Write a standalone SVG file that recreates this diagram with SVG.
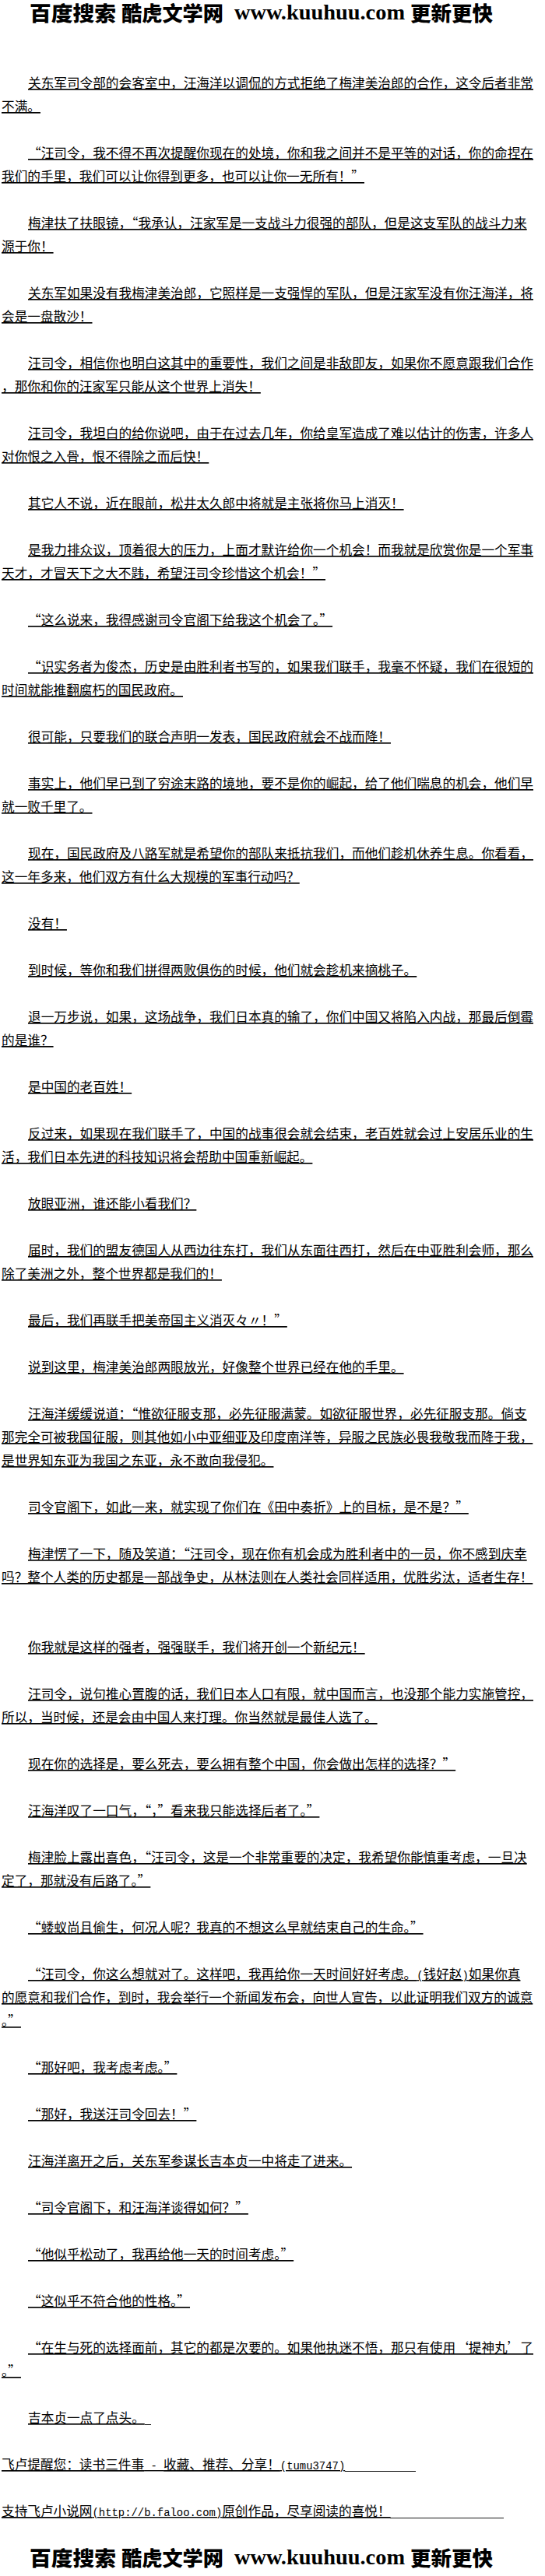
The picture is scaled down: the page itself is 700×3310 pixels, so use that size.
<svg xmlns="http://www.w3.org/2000/svg" width="700" height="3310" viewBox="0 0 700 3310">
<style>
.t{font-family:"Noto Sans CJK SC","Noto Sans",sans-serif;font-size:16.65px;fill:#000;text-decoration:underline;}
.m{font-family:"Liberation Mono",monospace;font-size:13.9px;}
.hc{font-family:"Noto Sans CJK SC",sans-serif;font-weight:900;font-size:26px;fill:#000;}
.hu{font-family:"Liberation Serif",serif;font-weight:bold;font-size:28px;fill:#000;}
.ul{stroke:#000;stroke-width:0.9;fill:none;}
</style>
<rect width="700" height="3310" fill="#fff"/>
<g id="header-top">
<text class="hc" x="38" y="27" textLength="111" lengthAdjust="spacingAndGlyphs">百度搜索</text>
<text class="hc" x="156" y="27" textLength="131" lengthAdjust="spacingAndGlyphs">酷虎文学网</text>
<text class="hu" x="301" y="25" textLength="219" lengthAdjust="spacingAndGlyphs">www.kuuhuu.com</text>
<text class="hc" x="527" y="27" textLength="106" lengthAdjust="spacingAndGlyphs">更新更快</text>
</g>
<g id="body">
<g id="p1"><text class="t" x="36" y="113">关东军司令部的会客室中，汪海洋以调侃的方式拒绝了梅津美治郎的合作，这令后者非常</text><text class="t" x="2" y="143">不满。</text></g>
<g id="p2"><text class="t" x="36" y="203">“汪司令，我不得不再次提醒你现在的处境，你和我之间并不是平等的对话，你的命捏在</text><text class="t" x="2" y="233">我们的手里，我们可以让你得到更多，也可以让你一无所有！”</text></g>
<g id="p3"><text class="t" x="36" y="293">梅津扶了扶眼镜，“我承认，汪家军是一支战斗力很强的部队，但是这支军队的战斗力来</text><text class="t" x="2" y="323">源于你！</text></g>
<g id="p4"><text class="t" x="36" y="383">关东军如果没有我梅津美治郎，它照样是一支强悍的军队，但是汪家军没有你汪海洋，将</text><text class="t" x="2" y="413">会是一盘散沙！</text></g>
<g id="p5"><text class="t" x="36" y="473">汪司令，相信你也明白这其中的重要性，我们之间是非敌即友，如果你不愿意跟我们合作</text><text class="t" x="2" y="503">，那你和你的汪家军只能从这个世界上消失！</text></g>
<g id="p6"><text class="t" x="36" y="563">汪司令，我坦白的给你说吧，由于在过去几年，你给皇军造成了难以估计的伤害，许多人</text><text class="t" x="2" y="593">对你恨之入骨，恨不得除之而后快！</text></g>
<g id="p7"><text class="t" x="36" y="653">其它人不说，近在眼前，松井太久郎中将就是主张将你马上消灭！</text></g>
<g id="p8"><text class="t" x="36" y="713">是我力排众议，顶着很大的压力，上面才默许给你一个机会！而我就是欣赏你是一个军事</text><text class="t" x="2" y="743">天才，才冒天下之大不韪，希望汪司令珍惜这个机会！”</text></g>
<g id="p9"><text class="t" x="36" y="803">“这么说来，我得感谢司令官阁下给我这个机会了。”</text></g>
<g id="p10"><text class="t" x="36" y="863">“识实务者为俊杰，历史是由胜利者书写的，如果我们联手，我毫不怀疑，我们在很短的</text><text class="t" x="2" y="893">时间就能推翻腐朽的国民政府。</text></g>
<g id="p11"><text class="t" x="36" y="953">很可能，只要我们的联合声明一发表，国民政府就会不战而降！</text></g>
<g id="p12"><text class="t" x="36" y="1013">事实上，他们早已到了穷途末路的境地，要不是你的崛起，给了他们喘息的机会，他们早</text><text class="t" x="2" y="1043">就一败千里了。</text></g>
<g id="p13"><text class="t" x="36" y="1103">现在，国民政府及八路军就是希望你的部队来抵抗我们，而他们趁机休养生息。你看看，</text><text class="t" x="2" y="1133">这一年多来，他们双方有什么大规模的军事行动吗？</text></g>
<g id="p14"><text class="t" x="36" y="1193">没有！</text></g>
<g id="p15"><text class="t" x="36" y="1253">到时候，等你和我们拼得两败俱伤的时候，他们就会趁机来摘桃子。</text></g>
<g id="p16"><text class="t" x="36" y="1313">退一万步说，如果，这场战争，我们日本真的输了，你们中国又将陷入内战，那最后倒霉</text><text class="t" x="2" y="1343">的是谁？</text></g>
<g id="p17"><text class="t" x="36" y="1403">是中国的老百姓！</text></g>
<g id="p18"><text class="t" x="36" y="1463">反过来，如果现在我们联手了，中国的战事很会就会结束，老百姓就会过上安居乐业的生</text><text class="t" x="2" y="1493">活，我们日本先进的科技知识将会帮助中国重新崛起。</text></g>
<g id="p19"><text class="t" x="36" y="1553">放眼亚洲，谁还能小看我们？</text></g>
<g id="p20"><text class="t" x="36" y="1613">届时，我们的盟友德国人从西边往东打，我们从东面往西打，然后在中亚胜利会师，那么</text><text class="t" x="2" y="1643">除了美洲之外，整个世界都是我们的！</text></g>
<g id="p21"><text class="t" x="36" y="1703">最后，我们再联手把美帝国主义消灭々〃！”</text></g>
<g id="p22"><text class="t" x="36" y="1763">说到这里，梅津美治郎两眼放光，好像整个世界已经在他的手里。</text></g>
<g id="p23"><text class="t" x="36" y="1823">汪海洋缓缓说道：“惟欲征服支那，必先征服满蒙。如欲征服世界，必先征服支那。倘支</text><text class="t" x="2" y="1853">那完全可被我国征服，则其他如小中亚细亚及印度南洋等，异服之民族必畏我敬我而降于我，</text><text class="t" x="2" y="1883">是世界知东亚为我国之东亚，永不敢向我侵犯。</text></g>
<g id="p24"><text class="t" x="36" y="1943">司令官阁下，如此一来，就实现了你们在《田中奏折》上的目标，是不是？”</text></g>
<g id="p25"><text class="t" x="36" y="2003">梅津愣了一下，随及笑道：“汪司令，现在你有机会成为胜利者中的一员，你不感到庆幸</text><text class="t" x="2" y="2033">吗？整个人类的历史都是一部战争史，从林法则在人类社会同样适用，优胜劣汰，适者生存！</text></g>
<g id="p26"><text class="t" x="36" y="2123">你我就是这样的强者，强强联手，我们将开创一个新纪元！</text></g>
<g id="p27"><text class="t" x="36" y="2183">汪司令，说句推心置腹的话，我们日本人口有限，就中国而言，也没那个能力实施管控，</text><text class="t" x="2" y="2213">所以，当时候，还是会由中国人来打理。你当然就是最佳人选了。</text></g>
<g id="p28"><text class="t" x="36" y="2273">现在你的选择是，要么死去，要么拥有整个中国，你会做出怎样的选择？”</text></g>
<g id="p29"><text class="t" x="36" y="2333">汪海洋叹了一口气，“，”看来我只能选择后者了。”</text></g>
<g id="p30"><text class="t" x="36" y="2393">梅津脸上露出喜色，“汪司令，这是一个非常重要的决定，我希望你能慎重考虑，一旦决</text><text class="t" x="2" y="2423">定了，那就没有后路了。”</text></g>
<g id="p31"><text class="t" x="36" y="2483">“蝼蚁尚且偷生，何况人呢？我真的不想这么早就结束自己的生命。”</text></g>
<g id="p32"><text class="t" x="36" y="2543">“汪司令，你这么想就对了。这样吧，我再给你一天时间好好考虑。<tspan class="m">(</tspan>钱好赵<tspan class="m">)</tspan>如果你真</text><text class="t" x="2" y="2573">的愿意和我们合作，到时，我会举行一个新闻发布会，向世人宣告，以此证明我们双方的诚意</text><text class="t" x="2" y="2603">。”</text></g>
<g id="p33"><text class="t" x="36" y="2663">“那好吧，我考虑考虑。”</text></g>
<g id="p34"><text class="t" x="36" y="2723">“那好，我送汪司令回去！”</text></g>
<g id="p35"><text class="t" x="36" y="2783">汪海洋离开之后，关东军参谋长吉本贞一中将走了进来。</text></g>
<g id="p36"><text class="t" x="36" y="2843">“司令官阁下，和汪海洋谈得如何？”</text></g>
<g id="p37"><text class="t" x="36" y="2903">“他似乎松动了，我再给他一天的时间考虑。”</text></g>
<g id="p38"><text class="t" x="36" y="2963">“这似乎不符合他的性格。”</text></g>
<g id="p39"><text class="t" x="36" y="3023">“在生与死的选择面前，其它的都是次要的。如果他执迷不悟，那只有使用‘提神丸’了</text><text class="t" x="2" y="3053">。”</text></g>
<g id="p40"><text class="t" x="36" y="3113">吉本贞一点了点头。</text><path class="ul" d="M186 3115.5H194"/></g>
<g id="p41"><text class="t" x="2" y="3173" xml:space="preserve">飞卢提醒您：读书三件事<tspan class="m"> - </tspan>收藏、推荐、分享！<tspan class="m">(tumu3747)</tspan></text><path class="ul" d="M443 3175.5H534"/></g>
<g id="p42"><text class="t" x="2" y="3233">支持飞卢小说网<tspan class="m">(http://b.faloo.com)</tspan>原创作品，尽享阅读的喜悦！</text><path class="ul" d="M501 3235.5H647"/></g>
</g>
<g id="header-bottom">
<text class="hc" x="38" y="3297" textLength="111" lengthAdjust="spacingAndGlyphs">百度搜索</text>
<text class="hc" x="156" y="3297" textLength="131" lengthAdjust="spacingAndGlyphs">酷虎文学网</text>
<text class="hu" x="301" y="3295" textLength="219" lengthAdjust="spacingAndGlyphs">www.kuuhuu.com</text>
<text class="hc" x="527" y="3297" textLength="106" lengthAdjust="spacingAndGlyphs">更新更快</text>
</g>
</svg>
